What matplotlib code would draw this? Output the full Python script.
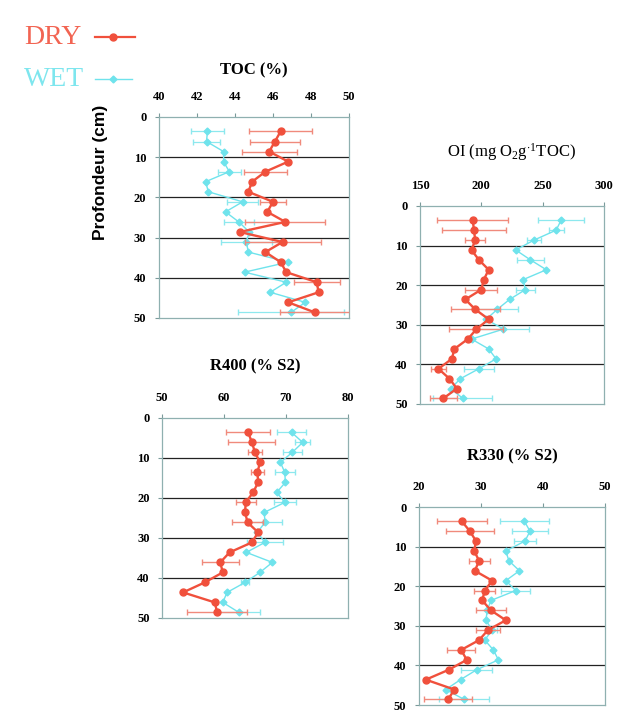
import matplotlib
matplotlib.use("Agg")
import matplotlib.pyplot as plt
import numpy as np

plt.rcParams["mathtext.fontset"] = "custom"
plt.rcParams["mathtext.rm"] = "Liberation Serif"
plt.rcParams["mathtext.it"] = "Liberation Serif:italic"
plt.rcParams["mathtext.bf"] = "Liberation Serif:bold"

W, H = 618, 713

depth = [3.6 + 2.5 * i for i in range(19)]

toc_dry = [46.4, 46.1, 45.8, 46.8, 45.6, 44.9, 44.7, 46.0, 45.7, 46.65, 44.25, 46.5, 45.6, 46.4, 46.7, 48.3, 48.4, 46.8, 48.2]
toc_dry_err = [1.65, 1.3, 1.45, 0, 1.15, 0, 0, 0.7, 0, 2.1, 0, 2.0, 0, 0, 0, 1.2, 0, 0, 1.85]
toc_wet = [42.55, 42.5, 43.4, 43.4, 43.7, 42.45, 42.6, 44.4, 43.5, 44.2, 44.75, 44.6, 44.7, 46.8, 44.5, 46.7, 45.85, 47.7, 46.95]
toc_wet_err = [0.85, 0.7, 0, 0, 0.6, 0, 0, 0.8, 0, 0.8, 0, 1.35, 0, 0, 0, 0, 0, 0, 2.8]

oi_dry = [193, 194, 195, 192, 198, 206, 202, 200, 187, 195, 206, 196, 189, 178, 176, 165, 174, 180, 169]
oi_dry_err = [29, 26, 8, 0, 0, 0, 0, 13, 0, 20, 0, 22, 0, 0, 0, 6, 0, 0, 11]
oi_wet = [265, 261, 243, 228, 240, 253, 234, 236, 223, 213, 204, 218, 192, 206, 212, 198, 183, 175, 185]
oi_wet_err = [19, 6, 6, 0, 11, 0, 0, 8, 0, 17, 0, 21, 0, 0, 0, 12, 0, 0, 24]

r400_dry = [63.9, 64.5, 65.0, 65.8, 65.4, 65.5, 64.7, 63.5, 63.4, 63.8, 65.5, 64.5, 60.9, 59.4, 59.8, 56.9, 53.4, 58.5, 58.9]
r400_dry_err = [3.5, 3.8, 1.1, 0, 1.0, 0, 0, 1.6, 0, 2.5, 0, 0, 0, 3.0, 0, 0, 0, 0, 4.8]
r400_wet = [70.9, 72.7, 71.0, 69.1, 69.8, 69.9, 68.5, 69.8, 66.5, 66.6, 65.4, 66.6, 63.6, 67.8, 65.8, 63.4, 60.5, 59.8, 62.4]
r400_wet_err = [2.4, 1.2, 1.5, 0, 1.6, 0, 0, 1.8, 0, 2.7, 0, 2.9, 0, 0, 0, 0.6, 0, 0, 3.4]

r330_dry = [26.9, 28.2, 29.2, 28.9, 29.7, 29.0, 31.8, 30.6, 30.2, 31.6, 34.0, 31.1, 29.7, 26.8, 27.7, 24.8, 21.1, 25.7, 24.7]
r330_dry_err = [4.0, 3.9, 0, 0, 1.7, 0, 0, 1.7, 0, 2.4, 0, 1.9, 0, 2.3, 0, 0, 0, 0, 3.9]
r330_wet = [37.0, 37.9, 37.1, 34.0, 34.5, 36.2, 34.0, 35.6, 31.6, 31.0, 30.8, 31.8, 30.6, 32.0, 32.8, 29.3, 26.7, 24.3, 27.3]
r330_wet_err = [4.0, 2.9, 1.7, 0, 0, 0, 0, 2.3, 0, 0, 0, 0.8, 0, 0, 0, 2.5, 0, 0, 4.0]

RED = "#f0503c"
RED_E = "#f08a7c"
CYAN = "#6fe3ec"
CYAN_E = "#8de8ee"
SERIF = ["Liberation Serif", "DejaVu Serif"]

fig = plt.figure(figsize=(W / 100, H / 100), dpi=100)


def rect(l, t, r, b):
    return [l / W, 1 - b / H, (r - l) / W, (b - t) / H]


def panel(box, dry, dry_e, wet, wet_e, xlim, xticks, title, bold_title, title_y):
    ax = fig.add_axes(rect(*box))
    ax.set_xlim(*xlim)
    ax.set_ylim(50, 0)
    for y in [10, 20, 30, 40]:
        ax.axhline(y, color="#222222", lw=0.9, zorder=1)
    de = [e if e > 0 else np.nan for e in dry_e]
    we = [e if e > 0 else np.nan for e in wet_e]
    ax.errorbar(wet, depth, xerr=we, color=CYAN, ecolor=CYAN_E, lw=1.0, elinewidth=0.9,
                capsize=2.5, marker="D", ms=3.5, mec=CYAN, zorder=3)
    ax.errorbar(dry, depth, xerr=de, color=RED, ecolor=RED_E, lw=1.7, elinewidth=1.0,
                capsize=2.5, marker="o", ms=5, mec=RED, zorder=4)
    ax.set_xticks(xticks)
    ax.set_yticks([0, 10, 20, 30, 40, 50])
    ax.xaxis.tick_top()
    ax.tick_params(axis="x", length=3, width=0.8, color="#7a9a9a", labelsize=9, pad=7)
    ax.tick_params(axis="y", length=3, width=0.8, color="#7a9a9a", labelsize=9, pad=6)
    for lab in ax.get_xticklabels() + ax.get_yticklabels():
        lab.set_fontfamily(SERIF)
        lab.set_fontweight("bold")
    for s in ax.spines.values():
        s.set_color("#8fb0b0")
        s.set_linewidth(0.9)
    cx = (box[0] + box[2]) / 2 / W
    fig.text(cx, 1 - title_y / H, title, ha="center", va="center",
             fontsize=12, family=SERIF, fontweight="bold" if bold_title else "normal")
    return ax


ax1 = panel((159, 117, 349, 318), toc_dry, toc_dry_err, toc_wet, toc_wet_err,
            (40, 50), [40, 42, 44, 46, 48, 50], "TOC (%)", True, 70)
fig.text(100 / W, 1 - 172 / H, "Profondeur (cm)", rotation=90, ha="center", va="center",
         fontsize=12.5, fontweight="bold", family=["Liberation Sans", "DejaVu Sans"])

panel((420, 206, 604, 404), oi_dry, oi_dry_err, oi_wet, oi_wet_err,
      (150, 300), [150, 200, 250, 300], r"OI (mg O$_2$g$^{\cdot 1}$TOC)", False, 152)

panel((162, 418, 348, 618), r400_dry, r400_dry_err, r400_wet, r400_wet_err,
      (50, 80), [50, 60, 70, 80], "R400 (% S2)", True, 366)

panel((419, 507, 605, 705), r330_dry, r330_dry_err, r330_wet, r330_wet_err,
      (20, 50), [20, 30, 40, 50], "R330 (% S2)", True, 456)

# Legend
fig.text(24 / W, 1 - 38 / H, "DRY", color="#f26452", fontsize=20, family=SERIF, va="center", ha="left")
fig.text(24 / W, 1 - 79 / H, "WET", color="#7ee6ee", fontsize=20, family=SERIF, va="center", ha="left")
fig.lines.append(plt.Line2D([95 / W, 135 / W], [1 - 37 / H, 1 - 37 / H], transform=fig.transFigure,
                            color=RED, lw=1.6, marker=None))
fig.lines.append(plt.Line2D([113 / W], [1 - 37 / H], transform=fig.transFigure,
                            color=RED, marker="o", ms=5))
fig.lines.append(plt.Line2D([95 / W, 132 / W], [1 - 79 / H, 1 - 79 / H], transform=fig.transFigure,
                            color=CYAN, lw=1.0))
fig.lines.append(plt.Line2D([113 / W], [1 - 79 / H], transform=fig.transFigure,
                            color=CYAN, marker="D", ms=3.5))

fig.savefig("out.png", dpi=100)
